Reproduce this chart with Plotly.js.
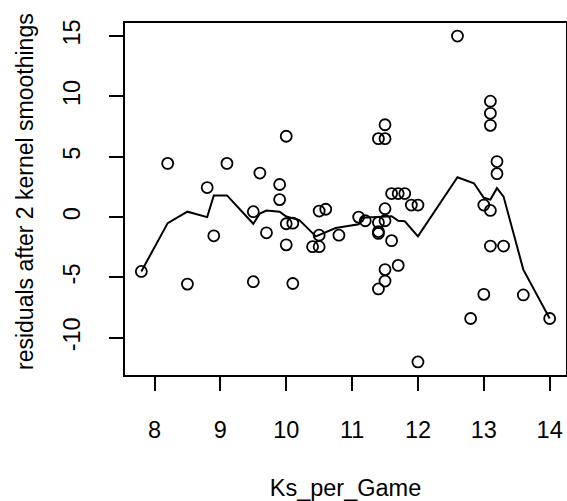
<!DOCTYPE html>
<html>
<head>
<meta charset="utf-8">
<script src="https://cdn.plot.ly/plotly-3.0.1.min.js"></script>
<style>
  html, body { margin: 0; padding: 0; background: #fff; }
  #chart { width: 567px; height: 501px; }
</style>
</head>
<body>
<div id="chart"></div>
<script>
// Residual points (Ks_per_Game, residual)
const pointX = [7.8, 8.2, 8.5, 8.8, 8.9, 9.1, 9.5, 9.5, 9.6, 9.7,
                9.9, 9.9, 10.0, 10.0, 10.0, 10.1, 10.1, 10.4, 10.5, 10.5,
                10.5, 10.6, 10.8, 11.1, 11.2, 11.4, 11.4, 11.4, 11.4, 11.4,
                11.5, 11.5, 11.5, 11.5, 11.5, 11.5, 11.6, 11.6, 11.7, 11.8,
                11.7, 11.9, 12.0, 12.0, 12.6, 12.8, 13.0, 13.0, 13.1, 13.1,
                13.1, 13.1, 13.1, 13.2, 13.2, 13.3, 13.6, 14.0];
const pointY = [-4.5, 4.45, -5.55, 2.45, -1.55, 4.45, 0.45, -5.35, 3.65, -1.3,
                2.7, 1.45, 6.7, -0.55, -2.3, -0.5, -5.5, -2.45, -2.45, -1.5,
                0.5, 0.65, -1.5, 0.0, -0.3, -0.45, -1.2, -1.35, -5.95, 6.5,
                6.5, 7.65, 0.7, -0.3, -4.35, -5.3, -1.95, 1.95, 1.95, 1.95,
                -4.0, 1.0, 1.0, -12.0, 15.0, -8.4, 1.0, -6.4, 0.55, -2.4,
                9.6, 8.6, 7.6, 4.6, 3.6, -2.4, -6.45, -8.4];

// Smoothed curve
const smoothX = [7.8, 8.2, 8.5, 8.8, 8.9, 9.1, 9.5, 9.6, 9.7, 9.9, 10.0, 10.1,
                 10.2, 10.45, 10.75, 11.1, 11.15, 11.6, 11.7, 11.8, 12.0,
                 12.6, 12.85, 13.0, 13.1, 13.2, 13.3, 13.6, 14.0];
const smoothY = [-4.5, -0.5, 0.45, 0.0, 1.8, 1.8, -0.55, 0.3, 0.55, 0.45, 0.05, -0.1,
                 -0.25, -1.6, -0.9, -0.6, -0.05, 0.07, -0.3, -0.35, -1.6,
                 3.3, 2.8, 1.6, 1.45, 2.4, 1.7, -4.35, -8.4];

const xTicks = [8, 9, 10, 11, 12, 13, 14];
const yTicks = [-10, -5, 0, 5, 10, 15];

const xTitle = 'Ks_per_Game';
const yTitle = 'residuals after 2 kernel smoothings';

const FONT = "Liberation Sans, Arial, Helvetica, sans-serif";
const FS = 23.5;

const traces = [
  {
    x: pointX, y: pointY, type: 'scatter', mode: 'markers',
    marker: { symbol: 'circle-open', size: 11, color: '#000', line: { width: 1.8, color: '#000' } },
    showlegend: false
  },
  {
    x: smoothX, y: smoothY, type: 'scatter', mode: 'lines',
    line: { color: '#000', width: 2 },
    showlegend: false
  }
];

const layout = {
  width: 567, height: 501,
  margin: { l: 125, r: 1, t: 23, b: 126, pad: 0 },
  paper_bgcolor: '#fff', plot_bgcolor: '#fff',
  font: { family: FONT, size: FS, color: '#000' },
  showlegend: false,
  xaxis: {
    range: [7.552, 14.248],
    tickmode: 'array', tickvals: xTicks, ticktext: xTicks.map(String),
    ticks: 'outside', ticklen: 14, tickwidth: 2, tickcolor: '#000',
    ticklabelstandoff: 19,
    showline: true, mirror: true, linecolor: '#000', linewidth: 2,
    showgrid: false, zeroline: false,
    tickfont: { family: FONT, size: FS, color: '#000' },
    title: { text: xTitle, font: { family: FONT, size: FS, color: '#000' }, standoff: 38 }
  },
  yaxis: {
    range: [-13.08, 16.08],
    tickmode: 'array', tickvals: yTicks, ticktext: yTicks.map(String),
    ticks: 'outside', ticklen: 14, tickwidth: 2, tickcolor: '#000',
    tickangle: -90,
    ticklabelstandoff: 20,
    showline: true, mirror: true, linecolor: '#000', linewidth: 2,
    showgrid: false, zeroline: false,
    tickfont: { family: FONT, size: FS, color: '#000' }
  },
  annotations: [
    {
      text: yTitle, xref: 'paper', yref: 'paper',
      x: -0.2268, y: 0.5227, xanchor: 'center', yanchor: 'middle',
      textangle: -90, showarrow: false,
      font: { family: FONT, size: 23, color: '#000' }
    }
  ]
};

Plotly.newPlot('chart', traces, layout, { displayModeBar: false, staticPlot: true });
</script>
</body>
</html>
